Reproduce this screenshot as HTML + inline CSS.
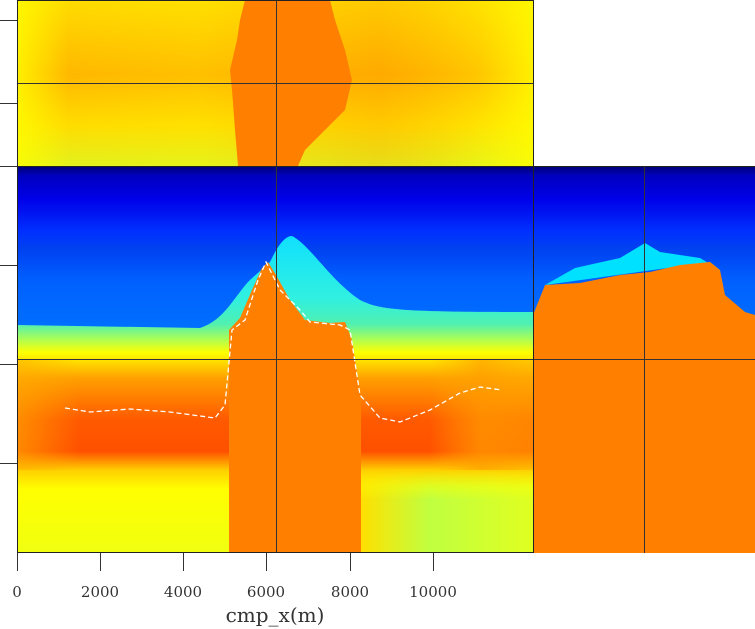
<!DOCTYPE html>
<html><head><meta charset="utf-8"><style>
html,body{margin:0;padding:0;background:#fff;width:755px;height:629px;overflow:hidden}
svg{display:block}
text{font-family:"DejaVu Serif","Liberation Serif",serif;fill:#333}
</style></head><body>
<svg width="755" height="629" viewBox="0 0 755 629" xmlns="http://www.w3.org/2000/svg">
<defs>
<linearGradient id="blue" x1="0" y1="166" x2="0" y2="330" gradientUnits="userSpaceOnUse">
<stop offset="0" stop-color="#000070"/><stop offset="0.06" stop-color="#0000c0"/>
<stop offset="0.2" stop-color="#0000e8"/><stop offset="0.4" stop-color="#0030ff"/>
<stop offset="0.5" stop-color="#0040f0"/><stop offset="0.7" stop-color="#0060ff"/>
<stop offset="1" stop-color="#0070ff"/></linearGradient>
<linearGradient id="sed" x1="0" y1="235" x2="0" y2="553" gradientUnits="userSpaceOnUse">
<stop offset="0" stop-color="#10e0ff"/><stop offset="0.2" stop-color="#30f0e0"/>
<stop offset="0.28" stop-color="#50f0b0"/><stop offset="0.33" stop-color="#b0ff50"/>
<stop offset="0.37" stop-color="#ffff00"/><stop offset="0.45" stop-color="#ffa000"/>
<stop offset="0.58" stop-color="#ff5a00"/><stop offset="0.68" stop-color="#ff5000"/>
<stop offset="0.74" stop-color="#ffd000"/><stop offset="0.8" stop-color="#ffff00"/>
<stop offset="1" stop-color="#f0ff10"/></linearGradient>
<linearGradient id="sedh" x1="17" y1="0" x2="533" y2="0" gradientUnits="userSpaceOnUse">
<stop offset="0" stop-color="#ffb000" stop-opacity="0.6"/><stop offset="0.12" stop-color="#ffb000" stop-opacity="0"/>
<stop offset="0.8" stop-color="#ffb000" stop-opacity="0"/><stop offset="0.9" stop-color="#ffa000" stop-opacity="0.7"/>
<stop offset="1" stop-color="#ffb000" stop-opacity="0.5"/></linearGradient>
<linearGradient id="bot" x1="361" y1="0" x2="533" y2="0" gradientUnits="userSpaceOnUse">
<stop offset="0" stop-color="#ffe000"/><stop offset="0.4" stop-color="#c0ff40"/>
<stop offset="1" stop-color="#e0ff20"/></linearGradient>
<linearGradient id="botv" x1="0" y1="470" x2="0" y2="500" gradientUnits="userSpaceOnUse">
<stop offset="0" stop-color="#fff" stop-opacity="0"/><stop offset="1" stop-color="#fff" stop-opacity="1"/></linearGradient>
<mask id="bm"><rect x="361" y="460" width="172" height="93" fill="url(#botv)"/></mask>
<linearGradient id="topv" x1="0" y1="0" x2="0" y2="166" gradientUnits="userSpaceOnUse">
<stop offset="0" stop-color="#ffd800"/><stop offset="0.45" stop-color="#ffb000"/>
<stop offset="0.75" stop-color="#ffd800"/><stop offset="1" stop-color="#e0f020"/></linearGradient>
<linearGradient id="toph" x1="17" y1="0" x2="533" y2="0" gradientUnits="userSpaceOnUse">
<stop offset="0" stop-color="#ffff00" stop-opacity="0.8"/><stop offset="0.1" stop-color="#ffff00" stop-opacity="0.1"/>
<stop offset="0.35" stop-color="#ffff00" stop-opacity="0.2"/><stop offset="0.7" stop-color="#ff9000" stop-opacity="0.2"/>
<stop offset="0.9" stop-color="#ffff00" stop-opacity="0.3"/><stop offset="1" stop-color="#ffff00" stop-opacity="0.8"/></linearGradient>
</defs>

<rect x="17" y="0" width="516" height="166" fill="url(#topv)"/>
<rect x="17" y="0" width="516" height="166" fill="url(#toph)"/>
<polygon fill="#ff8000" points="245,0 330,0 335,20 345,50 352,80 345,110 320,135 305,150 298,166 238,166 235,130 232,90 230,70 237,40 240,20"/>

<rect x="17" y="166" width="516" height="387" fill="url(#blue)"/>
<path fill="url(#sed)" d="M17,325 L200,328 C225,320 235,295 250,280 L270,262 C278,245 285,236 292,236 C310,245 330,280 360,300 C380,310 400,312 533,312 L533,553 L17,553 Z"/>
<path fill="url(#sedh)" d="M17,360 L533,360 L533,470 L17,470 Z"/>
<rect x="361" y="460" width="172" height="93" fill="url(#bot)" mask="url(#bm)"/>
<polygon fill="#ff8000" points="229,553 229,330 240,318 252,290 262,268 268,262 276,275 290,300 305,320 330,323 345,322 352,340 361,400 361,553"/>
<polyline fill="none" stroke="#fff" stroke-width="1.3" stroke-dasharray="5,3" points="65,408 90,412 130,409 170,412 215,418 225,405 232,330 245,320 258,280 266,262 280,290 300,310 310,322 340,325 350,330 360,395 380,418 400,422 430,410 460,393 480,387 502,390"/>

<rect x="533" y="166" width="222" height="387" fill="url(#blue)"/>
<path fill="#00e0ff" d="M545,285 L575,268 L620,258 L645,243 L660,252 L700,258 L720,270 L710,262 Z"/>
<polygon fill="#ff8000" points="533,315 545,285 580,283 620,275 650,272 680,265 710,262 720,270 725,295 745,312 755,315 755,553 533,553"/>

<line x1="17" y1="83.5" x2="533" y2="83.5" stroke="#333" stroke-width="1"/>
<line x1="17" y1="359.5" x2="755" y2="359.5" stroke="#333" stroke-width="1"/>
<line x1="276.5" y1="0" x2="276.5" y2="553" stroke="#333" stroke-width="1"/>
<line x1="644.5" y1="166" x2="644.5" y2="553" stroke="#333" stroke-width="1"/>

<rect x="17.5" y="0.5" width="516" height="166" fill="none" stroke="#222"/>
<rect x="17.5" y="166.5" width="516" height="386" fill="none" stroke="#222"/>
<line x1="533" y1="166.5" x2="755" y2="166.5" stroke="#222"/>

<g stroke="#333" stroke-width="1">
<line x1="0" y1="20.5" x2="17" y2="20.5"/><line x1="0" y1="103.5" x2="17" y2="103.5"/>
<line x1="0" y1="166.5" x2="17" y2="166.5"/><line x1="0" y1="265.5" x2="17" y2="265.5"/>
<line x1="0" y1="364.5" x2="17" y2="364.5"/><line x1="0" y1="463.5" x2="17" y2="463.5"/>
<line x1="17.5" y1="553" x2="17.5" y2="571"/><line x1="100.5" y1="553" x2="100.5" y2="571"/>
<line x1="183.5" y1="553" x2="183.5" y2="571"/><line x1="266.5" y1="553" x2="266.5" y2="571"/>
<line x1="350.5" y1="553" x2="350.5" y2="571"/><line x1="433.5" y1="553" x2="433.5" y2="571"/>
</g>
<g font-size="15" text-anchor="middle">
<text x="17" y="597">0</text><text x="100" y="597">2000</text><text x="183" y="597">4000</text>
<text x="266" y="597">6000</text><text x="350" y="597">8000</text><text x="433" y="597">10000</text>
</g>
<text x="275" y="622" font-size="20" text-anchor="middle">cmp_x(m)</text>
</svg>
</body></html>
